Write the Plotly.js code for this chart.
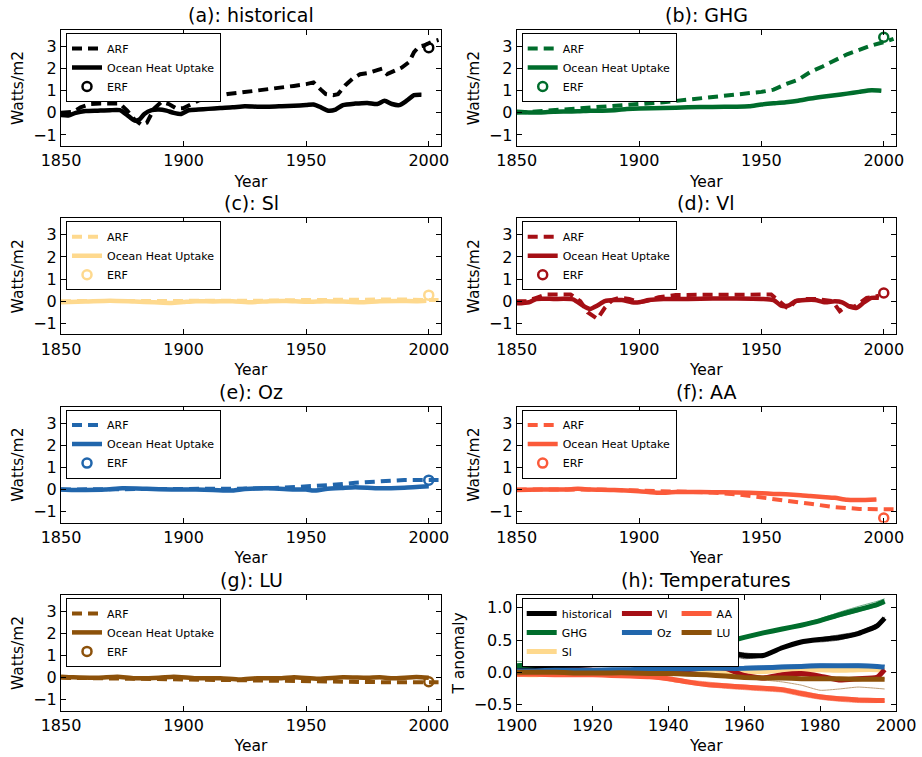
<!DOCTYPE html>
<html><head><meta charset="utf-8">
<script src="https://cdn.plot.ly/plotly-3.0.1.min.js"></script>
<style>html,body{margin:0;padding:0;background:#fff}#chart{width:922px;height:757px}</style>
</head><body><div id="chart"></div>
<script>
// ---------------- DATA ----------------
const ERF_YEAR = 2000;
const ERF_VALUES = [2.95, 3.42, 0.27, 0.37, 0.42, -1.29, -0.18];

// (a) historical
const ARF_HIST_YEARS = [1850,1855,1858,1862,1866,1870,1874,1877,1880,1883,1885,1888,1891,1894,1897,1900,1903,1906,1910,1914,1918,1922,1926,1930,1935,1940,1945,1950,1953,1956,1958,1961,1963,1966,1969,1972,1975,1978,1981,1983,1986,1989,1992,1994,1996,1998,2001,2004];
const ARF_HIST = [0.0,0.05,0.25,0.4,0.42,0.43,0.42,0.1,-0.3,-0.55,-0.45,0.2,0.5,0.4,0.2,0.22,0.4,0.55,0.68,0.78,0.85,0.9,0.95,1.0,1.08,1.15,1.22,1.3,1.38,1.05,0.85,0.8,0.85,1.25,1.55,1.75,1.8,1.9,2.0,1.75,1.9,2.05,2.3,2.75,3.0,3.05,3.2,3.3];
const OHU_HIST_YEARS = [1850,1853,1856,1860,1865,1870,1874,1877,1880,1882,1884,1887,1890,1893,1896,1899,1902,1906,1910,1915,1920,1925,1930,1935,1940,1945,1950,1953,1956,1959,1962,1965,1970,1975,1979,1982,1985,1988,1991,1994,1997];
const OHU_HIST = [-0.1,-0.12,0.0,0.08,0.1,0.12,0.12,-0.1,-0.35,-0.3,-0.05,0.12,0.15,0.1,0.0,-0.05,0.12,0.15,0.18,0.22,0.25,0.3,0.28,0.28,0.3,0.32,0.35,0.38,0.25,0.1,0.15,0.35,0.42,0.45,0.4,0.55,0.4,0.35,0.55,0.8,0.82];
const OHU_HIST_M1 = [-0.05,-0.08,0.03,0.1,0.13,0.14,0.15,-0.06,-0.3,-0.27,0.0,0.15,0.17,0.12,0.04,-0.02,0.14,0.17,0.2,0.25,0.28,0.33,0.31,0.3,0.32,0.35,0.38,0.41,0.28,0.14,0.18,0.37,0.45,0.47,0.43,0.57,0.44,0.38,0.58,0.83,0.85];
const OHU_HIST_M2 = [-0.14,-0.15,-0.03,0.05,0.08,0.1,0.09,-0.13,-0.38,-0.33,-0.08,0.09,0.13,0.08,-0.03,-0.08,0.1,0.13,0.16,0.2,0.23,0.27,0.26,0.26,0.28,0.3,0.33,0.35,0.22,0.07,0.12,0.33,0.4,0.43,0.37,0.52,0.37,0.32,0.52,0.77,0.79];

// (b) GHG
const ARF_GHG_YEARS = [1850,1860,1870,1880,1890,1900,1910,1920,1930,1940,1950,1955,1960,1965,1970,1975,1980,1985,1990,1995,2000,2004];
const ARF_GHG = [0.0,0.08,0.14,0.2,0.28,0.37,0.48,0.6,0.72,0.82,0.95,1.05,1.3,1.5,1.85,2.1,2.4,2.65,2.85,3.05,3.2,3.35];
const OHU_GHG_YEARS = [1850,1855,1860,1865,1870,1875,1880,1885,1890,1895,1900,1910,1920,1930,1940,1945,1950,1955,1960,1965,1970,1975,1980,1985,1990,1995,1999];
const OHU_GHG = [0.05,0.02,0.02,0.05,0.06,0.07,0.1,0.1,0.12,0.17,0.2,0.22,0.25,0.27,0.28,0.3,0.38,0.43,0.48,0.55,0.65,0.73,0.8,0.87,0.95,1.02,1.0];
const OHU_GHG_M1 = [0.08,0.04,0.0,0.07,0.09,0.06,0.12,0.13,0.11,0.19,0.22,0.25,0.24,0.29,0.3,0.33,0.4,0.46,0.5,0.57,0.66,0.76,0.82,0.9,0.97,1.04,1.03];
const OHU_GHG_M2 = [0.02,0.0,0.04,0.03,0.04,0.09,0.08,0.08,0.14,0.15,0.18,0.2,0.27,0.25,0.26,0.28,0.36,0.41,0.46,0.53,0.63,0.71,0.78,0.85,0.93,1.0,0.98];

// (c) Sl
const ARF_SL_YEARS = [1850,1870,1890,1910,1930,1950,1960,1970,1980,1990,2000,2004];
const ARF_SL = [0.0,0.0,-0.02,0.0,0.02,0.05,0.06,0.05,0.07,0.08,0.05,0.05];
const OHU_SL_YEARS = [1850,1860,1870,1880,1888,1895,1900,1905,1912,1920,1928,1935,1942,1950,1958,1965,1972,1980,1988,1995,1999];
const OHU_SL = [-0.05,-0.02,0.02,-0.02,-0.05,-0.08,-0.04,0.0,-0.01,0.0,-0.05,0.0,0.01,-0.03,0.0,-0.02,-0.05,0.0,0.01,0.0,0.02];
const OHU_SL_M1 = [-0.02,0.0,0.05,0.0,-0.03,-0.05,0.0,0.04,0.01,0.02,-0.03,0.02,0.03,-0.01,0.02,0.0,-0.02,0.02,0.03,0.03,0.04];
const OHU_SL_M2 = [-0.08,-0.04,0.0,-0.05,-0.07,-0.1,-0.07,-0.03,-0.03,-0.02,-0.07,-0.03,-0.01,-0.05,-0.03,-0.04,-0.07,-0.02,-0.02,-0.02,0.0];

// (d) Vl
const ARF_VL_YEARS = [1850,1854,1858,1862,1872,1876,1879,1883,1886,1889,1892,1896,1900,1903,1908,1915,1954,1957,1961,1964,1968,1972,1976,1979,1982,1985,1988,1991,1993,1996,1998];
const ARF_VL = [0.0,0.0,0.15,0.3,0.3,0.0,-0.5,-0.8,-0.3,0.05,0.15,0.1,-0.05,0.0,0.18,0.28,0.3,0.0,-0.35,0.0,0.1,0.1,0.05,0.0,-0.45,-0.2,-0.25,0.0,0.15,0.2,0.25];
const OHU_VL_YEARS = [1850,1855,1858,1865,1873,1877,1880,1883,1886,1890,1893,1897,1900,1904,1910,1920,1930,1940,1950,1955,1958,1961,1964,1968,1972,1976,1980,1983,1986,1989,1992,1995,1998];
const OHU_VL = [-0.1,-0.05,0.1,0.1,0.08,-0.2,-0.35,-0.2,0.0,0.05,0.05,-0.05,-0.05,0.05,0.1,0.1,0.12,0.12,0.1,0.05,-0.2,-0.2,0.0,0.05,0.05,-0.05,0.0,-0.05,-0.25,-0.3,-0.05,0.15,0.15];
const OHU_VL_M1 = [-0.06,-0.02,0.13,0.12,0.1,-0.16,-0.31,-0.17,0.04,0.08,0.07,-0.02,-0.02,0.08,0.12,0.13,0.14,0.15,0.13,0.08,-0.16,-0.17,0.03,0.08,0.08,-0.02,0.03,-0.02,-0.21,-0.27,-0.02,0.18,0.17];
const OHU_VL_M2 = [-0.13,-0.08,0.07,0.07,0.05,-0.23,-0.38,-0.24,-0.03,0.02,0.02,-0.08,-0.09,0.02,0.07,0.08,0.09,0.1,0.07,0.02,-0.23,-0.23,-0.03,0.02,0.02,-0.08,-0.03,-0.08,-0.28,-0.33,-0.08,0.12,0.12];

// (e) Oz
const ARF_OZ_YEARS = [1850,1900,1920,1930,1940,1950,1960,1970,1980,1990,2000,2004];
const ARF_OZ = [0.0,0.0,0.02,0.04,0.08,0.13,0.2,0.3,0.38,0.43,0.43,0.43];
const OHU_OZ_YEARS = [1850,1855,1860,1868,1875,1885,1895,1905,1912,1920,1925,1935,1945,1950,1953,1958,1965,1970,1980,1990,2000];
const OHU_OZ = [0.0,-0.02,-0.02,0.0,0.05,0.03,0.0,0.0,-0.02,-0.05,0.02,0.05,0.0,0.0,-0.05,0.02,0.07,0.1,0.05,0.08,0.15];
const OHU_OZ_M1 = [0.04,0.02,0.0,0.03,0.07,0.05,0.03,0.02,0.01,-0.02,0.04,0.07,0.03,0.02,-0.02,0.04,0.09,0.12,0.08,0.1,0.17];
const OHU_OZ_M2 = [-0.04,-0.05,-0.04,-0.02,0.03,0.0,-0.03,-0.02,-0.05,-0.08,-0.01,0.03,-0.03,-0.03,-0.07,0.0,0.05,0.08,0.03,0.06,0.13];

// (f) AA
const ARF_AA_YEARS = [1850,1880,1900,1910,1920,1930,1940,1950,1960,1970,1980,1990,2000,2004];
const ARF_AA = [0.0,0.0,-0.05,-0.08,-0.1,-0.14,-0.22,-0.35,-0.52,-0.65,-0.8,-0.88,-0.9,-0.9];
const OHU_AA_YEARS = [1850,1860,1870,1875,1880,1890,1900,1908,1915,1925,1935,1945,1950,1955,1960,1966,1970,1975,1980,1985,1990,1997];
const OHU_AA = [-0.02,0.0,0.0,0.03,0.0,-0.02,-0.08,-0.15,-0.12,-0.12,-0.13,-0.15,-0.17,-0.2,-0.22,-0.26,-0.3,-0.34,-0.38,-0.47,-0.48,-0.45];
const OHU_AA_M1 = [0.01,0.02,0.03,0.07,0.03,0.01,-0.05,-0.12,-0.1,-0.09,-0.1,-0.12,-0.14,-0.18,-0.2,-0.23,-0.27,-0.32,-0.36,-0.44,-0.46,-0.43];
const OHU_AA_M2 = [-0.05,-0.03,-0.02,0.0,-0.03,-0.05,-0.1,-0.18,-0.15,-0.14,-0.16,-0.18,-0.2,-0.22,-0.25,-0.29,-0.33,-0.37,-0.41,-0.5,-0.5,-0.47];

// (g) LU
const ARF_LU_YEARS = [1850,1880,1900,1920,1940,1960,1980,2000,2004];
const ARF_LU = [0.0,-0.05,-0.08,-0.12,-0.15,-0.18,-0.2,-0.2,-0.2];
const OHU_LU_YEARS = [1850,1855,1865,1873,1880,1890,1896,1905,1915,1923,1930,1940,1945,1955,1965,1975,1980,1985,1995,2000];
const OHU_LU = [0.05,0.02,0.0,0.05,-0.02,0.0,0.05,-0.02,-0.02,-0.08,-0.02,-0.02,0.02,-0.05,0.02,0.0,0.02,-0.02,0.03,0.0];
const OHU_LU_M1 = [0.09,0.05,0.03,0.08,0.01,0.03,0.08,0.01,0.01,-0.05,0.01,0.01,0.05,-0.02,0.05,0.03,0.05,0.01,0.06,0.03];
const OHU_LU_M2 = [0.02,-0.01,-0.03,0.02,-0.05,-0.03,0.02,-0.05,-0.04,-0.1,-0.05,-0.04,-0.01,-0.08,-0.01,-0.03,-0.01,-0.05,0.0,-0.03];

// (h) Temperatures
const T_YEARS = [1900,1905,1910,1915,1920,1925,1930,1935,1940,1945,1950,1955,1960,1965,1970,1975,1980,1985,1990,1995,1997];
const T_HIST    = [0.05,0.06,0.08,0.10,0.12,0.16,0.21,0.28,0.31,0.27,0.28,0.31,0.26,0.26,0.38,0.47,0.51,0.54,0.60,0.72,0.84];
const T_HIST_M1 = [0.08,0.07,0.11,0.12,0.15,0.20,0.27,0.33,0.35,0.30,0.25,0.29,0.22,0.24,0.36,0.45,0.53,0.58,0.63,0.75,0.86];
const T_HIST_M2 = [0.03,0.05,0.06,0.08,0.10,0.12,0.15,0.22,0.28,0.22,0.19,0.27,0.21,0.24,0.40,0.49,0.47,0.50,0.58,0.70,0.80];
const T_HIST_M3 = [0.04,0.07,0.07,0.11,0.13,0.17,0.22,0.29,0.30,0.29,0.32,0.34,0.30,0.28,0.37,0.46,0.52,0.55,0.61,0.68,0.85];
const T_GHG     = [0.10,0.12,0.14,0.17,0.20,0.23,0.27,0.30,0.32,0.36,0.41,0.47,0.54,0.61,0.67,0.73,0.80,0.89,0.97,1.05,1.10];
const T_GHG_M1  = [0.17,0.16,0.17,0.20,0.24,0.26,0.30,0.32,0.35,0.39,0.45,0.50,0.56,0.63,0.69,0.75,0.83,0.93,1.02,1.10,1.14];
const T_GHG_M2  = [0.07,0.10,0.12,0.15,0.18,0.21,0.25,0.28,0.30,0.34,0.39,0.45,0.52,0.59,0.66,0.72,0.78,0.86,0.94,1.02,1.06];
const T_GHG_M3  = [0.09,0.11,0.14,0.16,0.19,0.24,0.27,0.31,0.33,0.35,0.40,0.47,0.55,0.62,0.67,0.72,0.80,0.90,0.98,1.06,1.12];
const T_SL      = [-0.03,-0.04,-0.02,-0.01,0.00,0.00,0.01,0.01,0.00,0.01,0.02,0.01,0.00,0.01,0.03,0.03,0.04,0.03,0.04,0.04,0.03];
const T_SL_M1   = [-0.05,-0.06,-0.03,0.00,0.01,-0.01,0.02,0.03,0.01,0.02,0.04,0.02,0.02,0.03,0.05,0.05,0.06,0.04,0.06,0.05,0.04];
const T_SL_M2   = [-0.02,-0.03,-0.01,-0.02,-0.01,0.01,0.00,0.00,-0.01,0.00,0.01,-0.01,-0.02,0.00,0.01,0.02,0.02,0.01,0.02,0.03,0.02];
const T_VL      = [-0.02,0.00,0.02,0.03,0.03,0.02,0.01,0.00,0.00,0.04,0.07,0.06,-0.05,-0.09,-0.04,-0.02,-0.06,-0.12,-0.10,-0.08,0.04];
const T_VL_M1   = [0.00,0.02,0.05,0.05,0.04,0.03,0.03,0.02,0.02,0.08,0.10,0.07,-0.03,-0.11,-0.06,-0.01,-0.04,-0.14,-0.12,-0.06,0.02];
const T_VL_M2   = [-0.04,-0.02,0.00,0.02,0.02,0.01,-0.01,-0.02,-0.01,0.02,0.05,0.04,-0.08,-0.07,-0.02,-0.04,-0.08,-0.10,-0.08,-0.10,0.06];
const T_OZ      = [0.02,0.02,0.03,0.03,0.03,0.04,0.04,0.05,0.05,0.05,0.06,0.06,0.06,0.07,0.08,0.09,0.10,0.10,0.10,0.09,0.08];
const T_OZ_M1   = [0.03,0.04,0.05,0.04,0.05,0.06,0.07,0.07,0.07,0.08,0.09,0.08,0.09,0.10,0.11,0.12,0.13,0.12,0.13,0.11,0.10];
const T_OZ_M2   = [0.00,0.01,0.01,0.02,0.02,0.02,0.03,0.03,0.04,0.03,0.04,0.05,0.04,0.05,0.06,0.07,0.08,0.08,0.08,0.07,0.06];
const T_AA      = [-0.03,-0.03,-0.04,-0.04,-0.04,-0.05,-0.06,-0.07,-0.10,-0.15,-0.19,-0.21,-0.23,-0.25,-0.27,-0.33,-0.38,-0.41,-0.43,-0.44,-0.44];
const T_AA_M1   = [-0.01,-0.02,-0.03,-0.02,-0.03,-0.04,-0.05,-0.05,-0.07,-0.12,-0.15,-0.18,-0.20,-0.22,-0.24,-0.29,-0.35,-0.38,-0.40,-0.41,-0.42];
const T_AA_M2   = [-0.05,-0.05,-0.06,-0.06,-0.06,-0.07,-0.08,-0.09,-0.13,-0.18,-0.22,-0.25,-0.27,-0.29,-0.31,-0.37,-0.42,-0.45,-0.47,-0.47,-0.46];
const T_AA_M3   = [-0.02,-0.04,-0.03,-0.05,-0.05,-0.05,-0.07,-0.08,-0.09,-0.14,-0.20,-0.22,-0.24,-0.26,-0.28,-0.33,-0.40,-0.43,-0.44,-0.45,-0.45];
const T_LU      = [0.00,0.00,0.00,-0.01,-0.01,-0.01,-0.01,-0.02,-0.02,-0.03,-0.04,-0.06,-0.08,-0.09,-0.09,-0.10,-0.10,-0.10,-0.11,-0.11,-0.11];
const T_LU_M1   = [0.01,0.02,0.01,0.00,0.00,0.01,0.00,-0.01,-0.01,-0.02,-0.03,-0.04,-0.06,-0.07,-0.08,-0.09,-0.08,-0.09,-0.10,-0.09,-0.10];
const T_LU_M2   = [-0.01,-0.01,-0.02,-0.02,-0.02,-0.03,-0.03,-0.04,-0.04,-0.05,-0.06,-0.08,-0.10,-0.12,-0.15,-0.20,-0.28,-0.26,-0.23,-0.25,-0.26];

const X_TICKS = [1850, 1900, 1950, 2000];
const Y_TICKS = [-1, 0, 1, 2, 3];
const T_X_TICKS = [1900, 1920, 1940, 1960, 1980, 2000];
const T_Y_TICKS = [-0.5, 0.0, 0.5, 1.0];

// ---------------- STYLE / LAYOUT ----------------
const C = {hist:'#000000', ghg:'#006d2c', sl:'#fed98e', vl:'#a50f15', oz:'#2166ac', aa:'#fb5a3a', lu:'#8c510a'};
const W = 922, H = 757;
const FONT = 'DejaVu Sans, Verdana, sans-serif';
const COL_X = [[61, 441], [516.7, 896]];
const ROW_Y = [[30, 146], [218.3, 334.3], [406.6, 522.6], [594.9, 710.9]];

const PANELS = [
  {title:'(a): historical', color:C.hist, ay:ARF_HIST_YEARS, a:ARF_HIST, oy:OHU_HIST_YEARS, o:OHU_HIST, m:[OHU_HIST_M1,OHU_HIST_M2]},
  {title:'(b): GHG', color:C.ghg, ay:ARF_GHG_YEARS, a:ARF_GHG, oy:OHU_GHG_YEARS, o:OHU_GHG, m:[OHU_GHG_M1,OHU_GHG_M2]},
  {title:'(c): Sl', color:C.sl, ay:ARF_SL_YEARS, a:ARF_SL, oy:OHU_SL_YEARS, o:OHU_SL, m:[OHU_SL_M1,OHU_SL_M2]},
  {title:'(d): Vl', color:C.vl, ay:ARF_VL_YEARS, a:ARF_VL, oy:OHU_VL_YEARS, o:OHU_VL, m:[OHU_VL_M1,OHU_VL_M2]},
  {title:'(e): Oz', color:C.oz, ay:ARF_OZ_YEARS, a:ARF_OZ, oy:OHU_OZ_YEARS, o:OHU_OZ, m:[OHU_OZ_M1,OHU_OZ_M2]},
  {title:'(f): AA', color:C.aa, ay:ARF_AA_YEARS, a:ARF_AA, oy:OHU_AA_YEARS, o:OHU_AA, m:[OHU_AA_M1,OHU_AA_M2]},
  {title:'(g): LU', color:C.lu, ay:ARF_LU_YEARS, a:ARF_LU, oy:OHU_LU_YEARS, o:OHU_LU, m:[OHU_LU_M1,OHU_LU_M2]}
];

const TEMP = [
  {name:'historical', color:C.hist, mean:T_HIST, members:[T_HIST_M1,T_HIST_M2,T_HIST_M3], group:'c1'},
  {name:'GHG', color:C.ghg, mean:T_GHG, members:[T_GHG_M1,T_GHG_M2,T_GHG_M3], group:'c1'},
  {name:'Sl', color:C.sl, mean:T_SL, members:[T_SL_M1,T_SL_M2], group:'c1'},
  {name:'Vl', color:C.vl, mean:T_VL, members:[T_VL_M1,T_VL_M2], group:'c2'},
  {name:'Oz', color:C.oz, mean:T_OZ, members:[T_OZ_M1,T_OZ_M2], group:'c2'},
  {name:'AA', color:C.aa, mean:T_AA, members:[T_AA_M1,T_AA_M2,T_AA_M3], group:'c3'},
  {name:'LU', color:C.lu, mean:T_LU, members:[T_LU_M1,T_LU_M2], group:'c3'}
];

const traces = [];
const layout = {
  width: W, height: H,
  margin: {l:0, r:0, t:0, b:0},
  paper_bgcolor: '#fff', plot_bgcolor: '#fff',
  font: {family: FONT, color: '#000', size: 15},
  showlegend: true,
  annotations: []
};

function axisBase(domain, anchor) {
  return {
    domain: domain, anchor: anchor,
    showline: true, linecolor: '#000', linewidth: 1, mirror: 'ticks',
    ticks: 'inside', ticklen: 5, tickwidth: 1, tickcolor: '#000',
    showgrid: false, zeroline: false,
    tickfont: {family: FONT, size: 16, color: '#000'}
  };
}

function legendBase(leftPx, topPx) {
  return {
    x: leftPx / W, y: 1 - topPx / H, xanchor: 'left', yanchor: 'top',
    xref: 'paper', yref: 'paper',
    bgcolor: '#fff', bordercolor: '#000', borderwidth: 1,
    font: {family: FONT, size: 11, color: '#000'},
    itemwidth: 30, tracegroupgap: 0
  };
}

function setupAxes(i, xr, yr, xt, yt, ytitle, yfmt, title) {
  const row = Math.floor(i / 2), col = i % 2;
  const n = i === 0 ? '' : String(i + 1);
  const xd = [COL_X[col][0] / W, COL_X[col][1] / W];
  const yd = [1 - ROW_Y[row][1] / H, 1 - ROW_Y[row][0] / H];
  const xa = axisBase(xd, 'y' + n);
  Object.assign(xa, {range: xr, tickvals: xt, title: {text: 'Year', font: {family: FONT, size: 15.5}, standoff: 6}});
  const ya = axisBase(yd, 'x' + n);
  Object.assign(ya, {range: yr, tickvals: yt, title: {text: ytitle, font: {family: FONT, size: 15.5}, standoff: 5}});
  if (yfmt) ya.tickformat = yfmt;
  layout['xaxis' + n] = xa;
  layout['yaxis' + n] = ya;
  layout.annotations.push({
    xref: 'paper', yref: 'paper', x: (xd[0] + xd[1]) / 2, y: yd[1],
    xanchor: 'center', yanchor: 'bottom', yshift: 2, showarrow: false,
    text: title, font: {family: FONT, size: 19, color: '#000'}
  });
  return {n, row, col};
}

PANELS.forEach((p, i) => {
  const s = setupAxes(i, [1850, 2005], [-1.5, 3.75], X_TICKS, Y_TICKS, 'Watts/m2', null, p.title);
  const lg = 'legend' + s.n;
  layout[lg] = legendBase(COL_X[s.col][0] + 5, ROW_Y[s.row][0] + 3);
  const common = {type: 'scatter', xaxis: 'x' + s.n, yaxis: 'y' + s.n, legend: lg, hoverinfo: 'skip'};
  traces.push(Object.assign({}, common, {mode: 'lines', name: 'ARF', x: p.ay, y: p.a,
    line: {color: p.color, width: 4, dash: '10px,6px'}}));
  p.m.forEach(mem => {
    traces.push(Object.assign({}, common, {mode: 'lines', name: 'member', showlegend: false, x: p.oy, y: mem,
      opacity: 0.35, line: {color: p.color, width: 1.5, shape: 'spline', smoothing: 0.6}}));
  });
  traces.push(Object.assign({}, common, {mode: 'lines', name: 'Ocean Heat Uptake', x: p.oy, y: p.o,
    line: {color: p.color, width: 4.5, shape: 'spline', smoothing: 0.6}}));
  traces.push(Object.assign({}, common, {mode: 'markers', name: 'ERF', x: [ERF_YEAR], y: [ERF_VALUES[i]],
    marker: {symbol: 'circle-open', size: 9, color: p.color, line: {width: 2.5, color: p.color}}}));
});

// Panel (h)
(function () {
  setupAxes(7, [1900, 2000], [-0.6, 1.2], T_X_TICKS, T_Y_TICKS, 'T anomaly', '.1f', '(h): Temperatures');
  const lg = 'legend8';
  layout[lg] = Object.assign(legendBase(COL_X[1][0] + 5, ROW_Y[3][0] + 3),
    {orientation: 'h', traceorder: 'grouped', tracegroupgap: 6, itemwidth: 30});
  const common = {type: 'scatter', mode: 'lines', xaxis: 'x8', yaxis: 'y8', legend: lg, hoverinfo: 'skip'};
  TEMP.forEach(t => {
    t.members.forEach(m => {
      traces.push(Object.assign({}, common, {x: T_YEARS, y: m, name: t.name, legendgroup: t.group,
        showlegend: false, opacity: 0.55, line: {color: t.color, width: 1, shape: 'spline', smoothing: 0.5}}));
    });
  });
  TEMP.forEach(t => {
    traces.push(Object.assign({}, common, {x: T_YEARS, y: t.mean, name: t.name, legendgroup: t.group,
      line: {color: t.color, width: 5, shape: 'spline', smoothing: 0.5}}));
  });
})();

Plotly.newPlot('chart', traces, layout, {displayModeBar: false, responsive: false});
</script>
</body></html>
